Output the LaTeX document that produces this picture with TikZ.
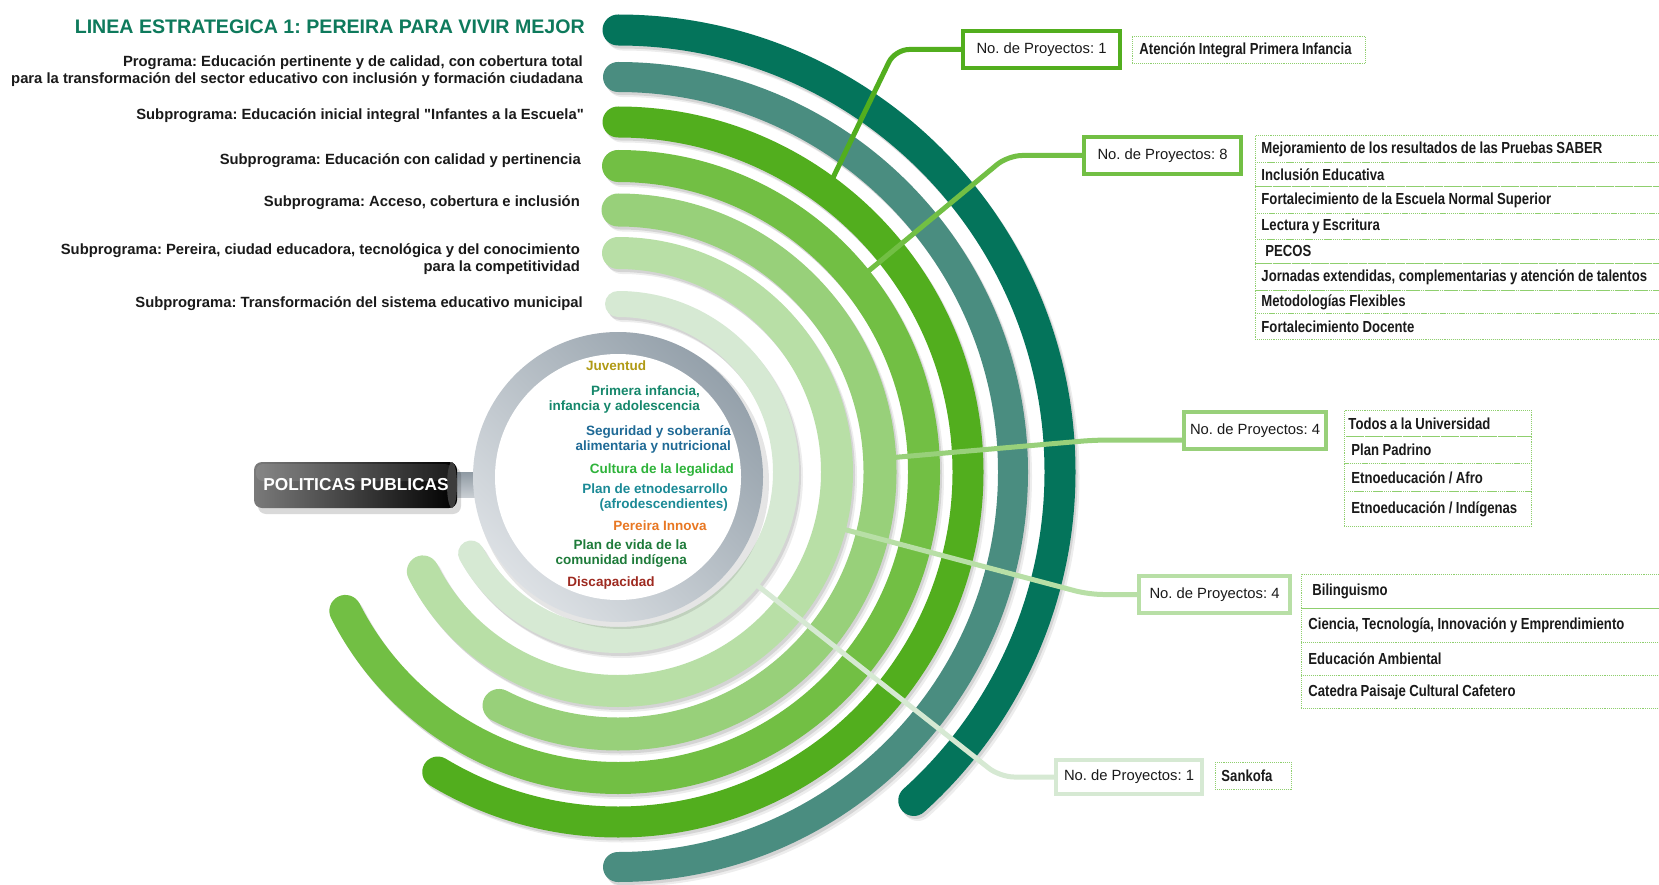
\documentclass[tikz,border=0pt]{standalone}
\usepackage{fontspec}
\setmainfont{Liberation Sans}[Ligatures=TeXOff]
\newfontfamily\narrowfont[FakeStretch=0.82]{Liberation Sans}
\usetikzlibrary{calc}
\definecolor{cA}{HTML}{04745B}
\definecolor{cB}{HTML}{4A8D80}
\definecolor{cC}{HTML}{52AE1E}
\definecolor{cD}{HTML}{72BF44}
\definecolor{cE}{HTML}{98D07A}
\definecolor{cF}{HTML}{B8DFA6}
\definecolor{cG}{HTML}{D6E9D3}
\definecolor{titlecol}{HTML}{0E7A5C}
\definecolor{dotgreen}{HTML}{8FCF6E}
\definecolor{ringdark}{HTML}{95A1AB}
\definecolor{ringlight}{HTML}{DCE0E4}
\definecolor{ppgray}{HTML}{7A7A7A}
\definecolor{ppcap}{HTML}{3C3C3C}
\definecolor{stubdark}{HTML}{8F9AA3}
\definecolor{stublight}{HTML}{C9CED3}
\definecolor{tJuv}{HTML}{B09A14}
\definecolor{tPri}{HTML}{15876B}
\definecolor{tSeg}{HTML}{1F6A96}
\definecolor{tCul}{HTML}{2EB33A}
\definecolor{tEtn}{HTML}{1B8A96}
\definecolor{tPer}{HTML}{E87722}
\definecolor{tVid}{HTML}{1E7B3A}
\definecolor{tDis}{HTML}{9E2A20}
\definecolor{txt}{HTML}{1A1A1A}
\begin{document}
\frenchspacing
\begin{tikzpicture}[x=1pt,y=-1pt,
  band/.style={line width=#1, line cap=round},
  lbl/.style={anchor=east, inner sep=0pt, align=right, text=txt,
     font=\fontsize{14.8}{17}\selectfont\bfseries},
  pol/.style={inner sep=0pt, align=right, font=\fontsize{13.5}{15}\selectfont\bfseries},
  cnt/.style={draw=#1, line width=4pt, fill=white, inner sep=0pt, text=txt,
     font=\fontsize{14.8}{17}\selectfont},
  conn/.style={draw=#1, line width=5pt, rounded corners=14pt},
  row/.style={draw=dotgreen, densely dotted, line width=0.9pt, anchor=north west,
     inner ysep=0pt, inner xsep=#1, align=left, text=txt,
     font=\narrowfont\fontsize{16}{18}\selectfont\bfseries,
     execute at begin node={\spaceskip=3.4pt plus 1pt minus 0.5pt\relax}},
]
\useasboundingbox (0,0) rectangle (1659,885);
\fill[white] (0,0) rectangle (1659,885);
\coordinate (O) at (618,472);

% ---- concentric arcs ----
\foreach \r/\w/\e/\c in {442/31/48/cA, 395/30/90/cB, 350/31/121/cC, 306/32/153/cD, 262/33/117/cE, 219/32/153/cF, 168/26/151/cG}{
  \draw[band=\w, black, opacity=0.07] ($(O)+(4,-\r+5)$) arc[start angle=-90, end angle=\e, radius=\r];
  \draw[band=\w, black, opacity=0.10] ($(O)+(2,-\r+3)$) arc[start angle=-90, end angle=\e, radius=\r];
  \draw[band=\w, draw=\c] ($(O)+(0,-\r)$) arc[start angle=-90, end angle=\e, radius=\r];
}

% ---- politicas publicas ----
\shade[top color=stubdark, bottom color=stublight] (455,472) rectangle (478,497);
\fill[black, opacity=0.10] (622,482) circle[radius=147];
\shade[top color=ringdark, bottom color=ringlight, shading angle=-45] (618,477) circle[radius=145];
\fill[white] (618,477) circle[radius=123];
\fill[black, opacity=0.15, rounded corners=8pt] (258,467) rectangle (461,514);
\shade[left color=ppgray, right color=black, rounded corners=8pt] (254,462) rectangle (457,508);
\fill[white, opacity=0.10, rounded corners=7pt] (256,464) rectangle (452,481);
\fill[ppcap] (452,485) ellipse[x radius=5, y radius=23];
\node[font=\fontsize{17.3}{20}\selectfont\bfseries, text=white, inner sep=0pt] (pp) at (356,485) {POLITICAS PUBLICAS};

% ---- connectors ----
\coordinate (p3) at (826.6,191);
\coordinate (p4) at (856.8,280.7);
\coordinate (p5) at (879.7,458.7);
\coordinate (p6) at (830.3,525.7);
\coordinate (p7) at (748.2,578.2);
\coordinate (k1) at (895,49.5);
\coordinate (k2) at (1008,155.5);
\coordinate (k3) at (1095,440);
\coordinate (k4) at (1089,594.5);
\coordinate (k5) at (1000,777);

\node[cnt=cC, minimum width=157, minimum height=37] (n1) at (1041.5,49.5) {No. de Proyectos: 1};
\node[cnt=cD, minimum width=157, minimum height=37] (n8) at (1162.5,155.5) {No. de Proyectos: 8};
\node[cnt=cE, minimum width=142, minimum height=37] (n4a) at (1255,430.5) {No. de Proyectos: 4};
\node[cnt=cF, minimum width=151, minimum height=37] (n4b) at (1214.5,594.5) {No. de Proyectos: 4};
\node[cnt=cG, minimum width=146, minimum height=34] (n1b) at (1129,777) {No. de Proyectos: 1};

\draw[conn=cC] (p3) -- (k1) -- (n1.west);
\draw[conn=cD] (p4) -- (k2) -- (n8.west);
\draw[conn=cE] (p5) -- (k3) -- (k3 -| n4a.west);
\draw[conn=cF] (p6) -- (k4) -- (n4b.west);
\draw[conn=cG] (p7) -- (k5) -- (n1b.west);

% redraw boxes on top of connector ends
\node[cnt=cC, minimum width=157, minimum height=37] at (n1) {No. de Proyectos: 1};
\node[cnt=cD, minimum width=157, minimum height=37] at (n8) {No. de Proyectos: 8};
\node[cnt=cE, minimum width=142, minimum height=37] at (n4a) {No. de Proyectos: 4};
\node[cnt=cF, minimum width=151, minimum height=37] at (n4b) {No. de Proyectos: 4};
\node[cnt=cG, minimum width=146, minimum height=34] at (n1b) {No. de Proyectos: 1};

% ---- project lists ----
\node[row=7pt, text width=219pt, minimum height=27pt] (a1) at (1132,36) {Atención Integral Primera Infancia};

\node[row=6pt, text width=438pt, minimum height=27pt] (b1) at (1255,135) {Mejoramiento de los resultados de las Pruebas SABER};
\node[row=6pt, text width=438pt, minimum height=24pt] (b2) at (1255,162) {Inclusión Educativa};
\node[row=6pt, text width=438pt, minimum height=27pt] (b3) at (1255,186) {Fortalecimiento de la Escuela Normal Superior};
\node[row=6pt, text width=438pt, minimum height=26pt] (b4) at (1255,213) {Lectura y Escritura};
\node[row=6pt, text width=438pt, minimum height=24pt] (b5) at (1255,239) {\hspace*{4pt}PECOS};
\node[row=6pt, text width=438pt, minimum height=27pt] (b6) at (1255,263) {Jornadas extendidas, complementarias y atención de talentos};
\node[row=6pt, text width=438pt, minimum height=23pt] (b7) at (1255,290) {Metodologías Flexibles};
\node[row=6pt, text width=438pt, minimum height=26pt] (b8) at (1255,313) {Fortalecimiento Docente};

\node[row=4pt, text width=179pt, minimum height=26pt] (c1) at (1344,410) {Todos a la Universidad};
\node[row=7pt, text width=173pt, minimum height=27pt] (c2) at (1344,436) {Plan Padrino};
\node[row=7pt, text width=173pt, minimum height=28pt] (c3) at (1344,463) {Etnoeducación / Afro};
\node[row=7pt, text width=173pt, minimum height=35pt] (c4) at (1344,491) {Etnoeducación / Indígenas};

\node[row=11pt, text width=398pt, minimum height=34pt] (d1) at (1301,574) {Bilinguismo};
\node[row=7pt, text width=406pt, minimum height=34pt] (d2) at (1301,608) {Ciencia, Tecnología, Innovación y Emprendimiento};
\node[row=7pt, text width=406pt, minimum height=33pt] (d3) at (1301,642) {Educación Ambiental};
\node[row=7pt, text width=406pt, minimum height=33pt] (d4) at (1301,675) {Catedra Paisaje Cultural Cafetero};

\node[row=6pt, text width=64pt, minimum height=27pt] (e1) at (1215,762) {Sankofa};

% ---- left labels ----
\node[lbl, text=titlecol, font=\fontsize{19.6}{22}\selectfont\bfseries] (t0) at (585,27) {LINEA ESTRATEGICA 1: PEREIRA PARA VIVIR MEJOR};
\node[lbl] (t1) at (583,71.5) {Programa: Educación pertinente y de calidad, con cobertura total\\para la transformación del sector educativo con inclusión y formación ciudadana};
\node[lbl] (t2) at (584,116) {Subprograma: Educación inicial integral "Infantes a la Escuela"};
\node[lbl] (t3) at (581,161) {Subprograma: Educación con calidad y pertinencia};
\node[lbl] (t4) at (580,203) {Subprograma: Acceso, cobertura e inclusión};
\node[lbl] (t5) at (580,259.5) {Subprograma: Pereira, ciudad educadora, tecnológica y del conocimiento\\para la competitividad};
\node[lbl] (t6) at (583,304) {Subprograma: Transformación del sistema educativo municipal};

% ---- policies inside ring ----
\node[pol, text=tJuv] (j1) at (616,366) {Juventud};
\node[pol, text=tPri, anchor=east] (j2) at (700,400) {Primera infancia,\\infancia y adolescencia};
\node[pol, text=tSeg, anchor=east] (j3) at (731,439) {Seguridad y soberanía\\alimentaria y nutricional};
\node[pol, text=tCul, anchor=east] (j4) at (734,470) {Cultura de la legalidad};
\node[pol, text=tEtn, anchor=east] (j5) at (728,498) {Plan de etnodesarrollo\\(afrodescendientes)};
\node[pol, text=tPer] (j6) at (660,526) {Pereira Innova};
\node[pol, text=tVid, anchor=east] (j7) at (687,554) {Plan de vida de la\\comunidad indígena};
\node[pol, text=tDis] (j8) at (611,583) {Discapacidad};
\end{tikzpicture}
\end{document}
